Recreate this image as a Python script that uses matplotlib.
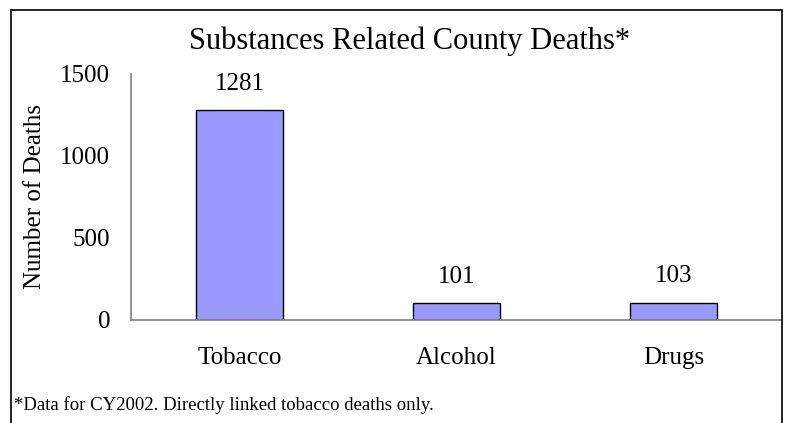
import matplotlib
matplotlib.use('Agg')
import matplotlib.pyplot as plt
from matplotlib.patches import Rectangle

categories = ['Tobacco', 'Alcohol', 'Drugs']
deaths = [1281, 101, 103]
yticks = [0, 500, 1000, 1500]

title = 'Substances Related County Deaths*'
ylabel = 'Number of Deaths'
footnote = '*Data for CY2002. Directly linked tobacco deaths only.'

plt.rcParams['font.family'] = ['Liberation Serif', 'DejaVu Serif']

W, H = 788, 423
fig = plt.figure(figsize=(W / 100, H / 100), dpi=100)

# outer chart-area frame (bottom edge runs off the picture)
fig.patches.append(Rectangle((11 / W, -0.05), (782 - 11) / W, 1.05 - 10 / H,
                             transform=fig.transFigure, fill=False,
                             edgecolor='black', linewidth=1.2, clip_on=False))

# plot area
x0, x1 = 131, 782
y_top, y_bot = 74, 319.5
ax = fig.add_axes([x0 / W, 1 - y_bot / H, (x1 - x0) / W, (y_bot - y_top) / H])

bars = ax.bar(range(len(categories)), deaths, width=0.405,
              color='#9999FF', edgecolor='black', linewidth=1.0)
for i, v in enumerate(deaths):
    ax.annotate(str(v), (i, v), xytext=(0, 11), textcoords='offset points',
                ha='center', va='bottom', fontsize=18)

ax.set_xlim(-0.5, len(categories) - 0.5)
ax.set_ylim(0, 1500)
ax.set_yticks(yticks)
ax.set_xticks(range(len(categories)))
ax.set_xticklabels(categories)
ax.tick_params(axis='y', length=0, pad=15, labelsize=18)
ax.tick_params(axis='x', length=0, pad=20, labelsize=18)

for s in ['top', 'right']:
    ax.spines[s].set_visible(False)
for s in ['left', 'bottom']:
    ax.spines[s].set_color('#808080')
    ax.spines[s].set_linewidth(1.2)

ax.set_ylabel(ylabel, fontsize=18, labelpad=10)

fig.text(410 / W, 1 - 49 / H, title, ha='center', va='baseline', fontsize=22)
fig.text(14 / W, 1 - 410 / H, footnote, ha='left', va='baseline', fontsize=13.5)

fig.savefig('out.png', dpi=100)
